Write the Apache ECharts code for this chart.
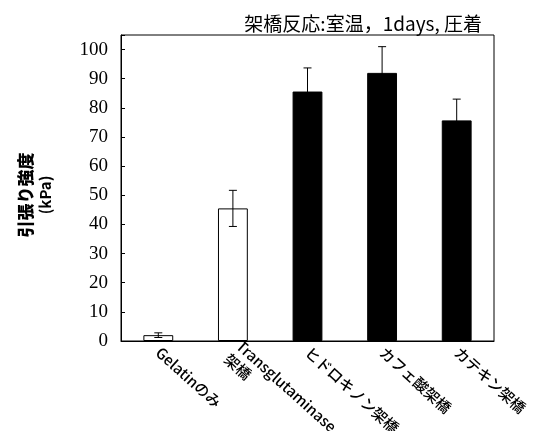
<!DOCTYPE html>
<html>
<head>
<meta charset="utf-8">
<script src="https://cdn.jsdelivr.net/npm/echarts@6/dist/echarts.min.js"></script>
<style>
  html, body { margin: 0; padding: 0; background: #fff; }
  #chart { width: 537px; height: 431px; }
</style>
</head>
<body>
<div id="chart"></div>
<script>
// Tensile strength (kPa) by cross-linking method, mean ± error
const categories = ['Gelatinのみ', 'Transglutaminase\n架橋', 'ヒドロキノン架橋', 'カフェ酸架橋', 'カテキン架橋'];
const means = [2.0, 45.5, 85.6, 92.0, 75.7];
const errors = [0.8, 6.2, 8.1, 9.0, 7.3];
const yTicks = [0, 10, 20, 30, 40, 50, 60, 70, 80, 90, 100];

const chart = echarts.init(document.getElementById('chart'), null, { renderer: 'canvas' });

const cjk = '"Noto Sans CJK JP", "Noto Sans", sans-serif';

chart.setOption({
  animation: false,
  backgroundColor: '#ffffff',
  title: {
    text: '架橋反応:室温，1days, 圧着',
    right: 50,
    top: 9,
    textStyle: { fontFamily: cjk, fontSize: 19, fontWeight: 'normal', color: '#000' }
  },
  grid: {
    left: 121, right: 43, top: 35, bottom: 90,
    outerBoundsMode: 'none',
    containLabel: false,
    show: true, borderColor: '#000', borderWidth: 1, backgroundColor: 'transparent'
  },
  xAxis: {
    type: 'category',
    data: categories,
    axisLine: { show: true, lineStyle: { color: '#000', width: 1 } },
    axisTick: { show: false },
    axisLabel: {
      interval: 0,
      rotate: -42,
      margin: 9,
      color: '#000',
      fontFamily: cjk,
      fontSize: 15,
      fontWeight: 500,
      lineHeight: 18
    }
  },
  yAxis: {
    type: 'value',
    min: 0,
    max: 105,
    interval: 10,
    splitLine: { show: false },
    axisLine: { show: true, lineStyle: { color: '#000', width: 1 } },
    axisTick: { show: true, inside: true, length: 4, lineStyle: { color: '#000' } },
    axisLabel: {
      color: '#000',
      fontFamily: '"Liberation Serif", "Times New Roman", serif',
      fontSize: 19,
      margin: 13,
      formatter: v => (yTicks.indexOf(v) >= 0 ? String(v) : '')
    },
    name: '{a|引張り強度}\n{b|(kPa)}',
    nameLocation: 'middle',
    nameRotate: 90,
    nameGap: 66,
    nameTextStyle: {
      padding: [0, 14, 0, 0],
      rich: {
        a: { fontFamily: cjk, fontSize: 17, fontWeight: 900, color: '#000', lineHeight: 21, align: 'center' },
        b: { fontFamily: cjk, fontSize: 15, fontWeight: 'bold', color: '#000', lineHeight: 19, align: 'center' }
      }
    }
  },
  series: [
    {
      type: 'bar',
      data: means,
      barWidth: '40%',
      itemStyle: {
        color: p => (p.dataIndex < 2 ? '#ffffff' : '#000000'),
        borderColor: '#000',
        borderWidth: 1
      },
      z: 2
    },
    {
      type: 'custom',
      data: means.map((m, i) => [i, m - errors[i], m + errors[i]]),
      renderItem: (params, api) => {
        const x = api.value(0);
        const lo = api.coord([x, api.value(1)]);
        const hi = api.coord([x, api.value(2)]);
        const cap = 4;
        const style = { stroke: '#000', lineWidth: 1, fill: null };
        return {
          type: 'group',
          children: [
            { type: 'line', shape: { x1: hi[0], y1: hi[1], x2: lo[0], y2: lo[1] }, style },
            { type: 'line', shape: { x1: hi[0] - cap, y1: hi[1], x2: hi[0] + cap, y2: hi[1] }, style },
            { type: 'line', shape: { x1: lo[0] - cap, y1: lo[1], x2: lo[0] + cap, y2: lo[1] }, style }
          ]
        };
      },
      z: 3
    }
  ]
});
</script>
</body>
</html>
